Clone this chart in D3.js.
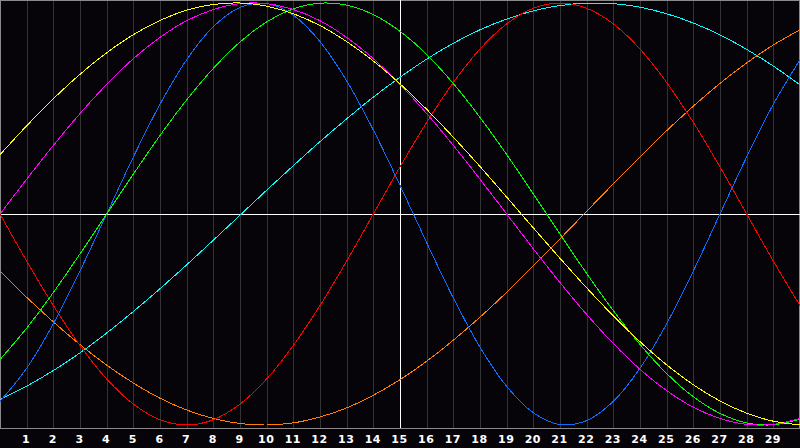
<!DOCTYPE html>
<html>
<head>
<meta charset="utf-8">
<script src="https://cdn.jsdelivr.net/npm/d3@7"></script>
<style>
  html, body { margin: 0; padding: 0; background: #060409; overflow: hidden; }
  .day-label { font-family: "DejaVu Sans", sans-serif; font-weight: bold; font-size: 11px; fill: #ffffff; letter-spacing: 0.5px; }
</style>
</head>
<body>
<div id="chart"></div>
<script>

// days shown on the chart (0 = left edge, 15 = today line)
var days = d3.range(0, 31);
var tickDays = d3.range(1, 30);

// curve values, one value per day
var blueValues = [-0.888, -0.731, -0.520, -0.270, 0.000, 0.270, 0.520, 0.731, 0.888, 0.979,
    0.998, 0.942, 0.817, 0.631, 0.398, 0.136, -0.136, -0.398, -0.631, -0.817,
    -0.942, -0.998, -0.979, -0.888, -0.731, -0.520, -0.270, 0.000, 0.270, 0.520, 0.731];
var redValues = [0.000, -0.223, -0.434, -0.623, -0.782, -0.901, -0.975, -1.000, -0.975, -0.901,
    -0.782, -0.623, -0.434, -0.223, 0.000, 0.223, 0.434, 0.623, 0.782, 0.901,
    0.975, 1.000, 0.975, 0.901, 0.782, 0.623, 0.434, 0.223, 0.000, -0.223, -0.434];
var greenValues = [-0.690, -0.541, -0.372, -0.189, 0.000, 0.189, 0.372, 0.541, 0.690, 0.815,
    0.910, 0.972, 0.999, 0.990, 0.945, 0.866, 0.756, 0.618, 0.458, 0.282,
    0.095, -0.095, -0.282, -0.458, -0.618, -0.756, -0.866, -0.945, -0.990, -0.999, -0.972];
var magentaValues = [0.000, 0.165, 0.325, 0.476, 0.614, 0.736, 0.837, 0.916, 0.969, 0.997,
    0.997, 0.969, 0.916, 0.837, 0.736, 0.614, 0.476, 0.325, 0.165, 0.000,
    -0.165, -0.325, -0.476, -0.614, -0.736, -0.837, -0.916, -0.969, -0.997, -0.997, -0.969];
var yellowValues = [0.281, 0.418, 0.546, 0.662, 0.764, 0.850, 0.917, 0.966, 0.993, 1.000,
    0.985, 0.949, 0.893, 0.817, 0.725, 0.617, 0.496, 0.364, 0.225, 0.080,
    -0.066, -0.210, -0.350, -0.483, -0.605, -0.715, -0.809, -0.886, -0.944, -0.982, -0.999];
var orangeValues = [-0.271, -0.395, -0.511, -0.619, -0.716, -0.801, -0.873, -0.929, -0.969, -0.993,
    -1.000, -0.990, -0.962, -0.919, -0.859, -0.785, -0.698, -0.598, -0.489, -0.371,
    -0.246, -0.118, 0.013, 0.143, 0.271, 0.395, 0.511, 0.619, 0.716, 0.801, 0.873];
var cyanValues = [-0.879, -0.816, -0.742, -0.658, -0.564, -0.462, -0.354, -0.241, -0.124, -0.006,
    0.113, 0.229, 0.343, 0.451, 0.554, 0.648, 0.734, 0.809, 0.873, 0.924,
    0.963, 0.988, 0.999, 0.997, 0.980, 0.949, 0.905, 0.849, 0.780, 0.701, 0.612];

// draw order, bottom first
var series = [
    { values: cyanValues, color: "#00ffff" },
    { values: orangeValues, color: "#ff8000" },
    { values: redValues, color: "#ff0000" },
    { values: blueValues, color: "#0a6eff" },
    { values: greenValues, color: "#00ff00" },
    { values: magentaValues, color: "#ff00ff" },
    { values: yellowValues, color: "#ffff00" }
];

var svgWidth = 800;
var svgHeight = 448;
var plotHeight = 428;

var svg = d3.select("#chart").append("svg")
    .attr("width", svgWidth)
    .attr("height", svgHeight)
    .style("display", "block");

svg.append("rect")
    .attr("width", svgWidth)
    .attr("height", svgHeight)
    .attr("fill", "#060409");

var xScale = d3.scaleLinear().domain([0, 30]).range([0, svgWidth]);
var yScale = d3.scaleLinear().domain([-1, 1]).range([425, 3]);

// vertical day grid
svg.append("g")
    .attr("shape-rendering", "crispEdges")
    .selectAll("line")
    .data(tickDays)
    .enter()
    .append("line")
    .attr("x1", d => Math.round(xScale(d)) + 0.5)
    .attr("x2", d => Math.round(xScale(d)) + 0.5)
    .attr("y1", 0)
    .attr("y2", plotHeight)
    .attr("stroke", "#333333")
    .attr("stroke-width", 1);

// frame
svg.append("rect")
    .attr("x", 0.5)
    .attr("y", 0.5)
    .attr("width", svgWidth - 1)
    .attr("height", plotHeight)
    .attr("fill", "none")
    .attr("stroke", "#8a8a8a")
    .attr("shape-rendering", "crispEdges");

// zero line and today line
svg.append("line")
    .attr("x1", 0).attr("x2", svgWidth)
    .attr("y1", Math.round(yScale(0)) + 0.5).attr("y2", Math.round(yScale(0)) + 0.5)
    .attr("stroke", "#ffffff")
    .attr("shape-rendering", "crispEdges");

svg.append("line")
    .attr("x1", xScale(15) + 0.5).attr("x2", xScale(15) + 0.5)
    .attr("y1", 0).attr("y2", plotHeight)
    .attr("stroke", "#ffffff")
    .attr("shape-rendering", "crispEdges");

// curves
var line = d3.line()
    .x((d, i) => xScale(days[i]))
    .y(d => yScale(d))
    .curve(d3.curveCatmullRom);

svg.append("g")
    .selectAll("path")
    .data(series)
    .enter()
    .append("path")
    .attr("d", d => line(d.values))
    .attr("fill", "none")
    .attr("stroke", d => d.color)
    .attr("stroke-width", 1)
    .attr("shape-rendering", "crispEdges");

// day labels under the plot
var xAxis = d3.axisBottom(xScale)
    .tickValues(tickDays)
    .tickSize(0)
    .tickPadding(0)
    .tickFormat(d3.format("d"));

var axisGroup = svg.append("g")
    .attr("transform", `translate(0, ${plotHeight + 7})`)
    .call(xAxis);

axisGroup.select(".domain").remove();
axisGroup.selectAll("text")
    .attr("class", "day-label")
    .attr("dy", "0.71em")
    .attr("x", -1);

</script>
</body>
</html>
